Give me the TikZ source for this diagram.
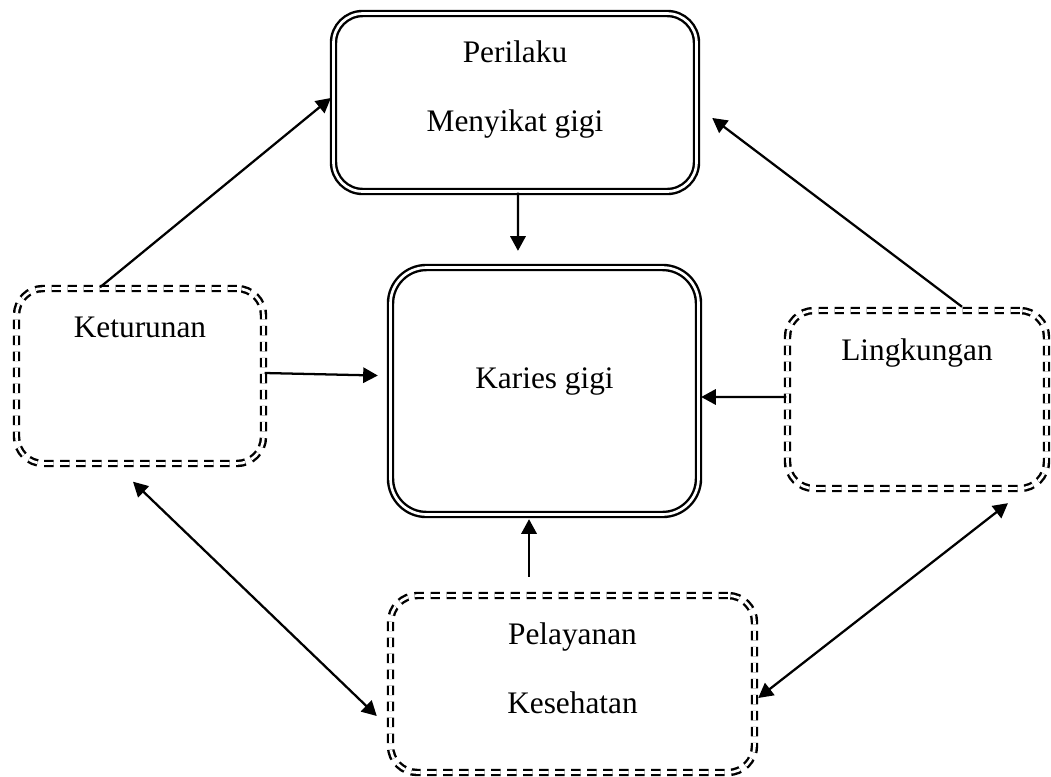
\documentclass[tikz,border=0pt]{standalone}
\usepackage{fontspec}
\setmainfont{Liberation Serif}
\usetikzlibrary{arrows.meta}
\tikzset{
	solidbox/.style={
		rectangle,
		draw,
		double,
		line width=1.8pt,
		double distance=2pt,
		rounded corners=22pt
	},
	dashbox/.style={
		solidbox,
		rounded corners=20pt,
		dash pattern=on 7pt off 5pt
	},
	rowone/.style={anchor=base,yshift=-37.3pt},
	rowtwo/.style={anchor=base,yshift=-89.5pt}
}
\begin{document}
\begin{tikzpicture}[x=0.75pt,y=-0.75pt,font=\fontsize{23.5pt}{28pt}\selectfont,line width=1.7pt,>={Triangle[length=11pt,width=11.5pt]}]
				\useasboundingbox (0,0) rectangle (1051,776);
				\node[solidbox, minimum width=272.25pt, minimum height=133.5pt, label={[rowone]north:Perilaku}, label={[rowtwo]north:Menyikat gigi}] (perilaku) at (515,102.5) {};
				\node[solidbox, rounded corners=27pt, minimum width=231pt, minimum height=185.25pt, label={[rowtwo,yshift=-2.4pt]north:Karies gigi}] (karies) at (544.5,391) {};
				\node[dashbox, minimum width=185.25pt, minimum height=131.25pt, label={[rowone]north:Keturunan}] (keturunan) at (140,376) {};
				\node[dashbox, minimum width=194.25pt, minimum height=133.5pt, label={[rowone,yshift=-1pt]north:Lingkungan}] (lingkungan) at (917,399.5) {};
				\node[dashbox, minimum width=273pt, minimum height=132.75pt, label={[rowone]north:Pelayanan}, label={[rowtwo]north:Kesehatan}] (pelayanan) at (572.5,684) {};
				
				\draw[->] ([xshift=-30pt]keturunan.north) -- ([xshift=-1.1pt,yshift=3.4pt]perilaku.west);
				\draw[->] ([xshift=2.25pt]perilaku.south) -- ([xshift=-19.9pt,yshift=11.6pt]karies.north);
				\draw[->] ([yshift=2.25pt]keturunan.east) -- ([xshift=-8.6pt,yshift=11.6pt]karies.west);
				\draw[->] ([yshift=1.9pt]lingkungan.west) -- ([xshift=1.1pt,yshift=-4.5pt]karies.east);
				\draw[->] ([xshift=-32.6pt,yshift=13.1pt]pelayanan.north) -- ([xshift=-11.6pt,yshift=-2.6pt]karies.south);
				\draw[->] ([xshift=33.75pt,yshift=1.9pt]lingkungan.north) -- ([xshift=10.9pt,yshift=-11.6pt]perilaku.east);
				\draw[<->] ([xshift=-5.25pt,yshift=-12.75pt]keturunan.south) -- ([xshift=-9.4pt,yshift=-24pt]pelayanan.west);
				\draw[<->] ([xshift=68.25pt,yshift=-10.1pt]lingkungan.south) -- ([xshift=1.9pt,yshift=-10.5pt]pelayanan.east);
			\end{tikzpicture}
\end{document}
